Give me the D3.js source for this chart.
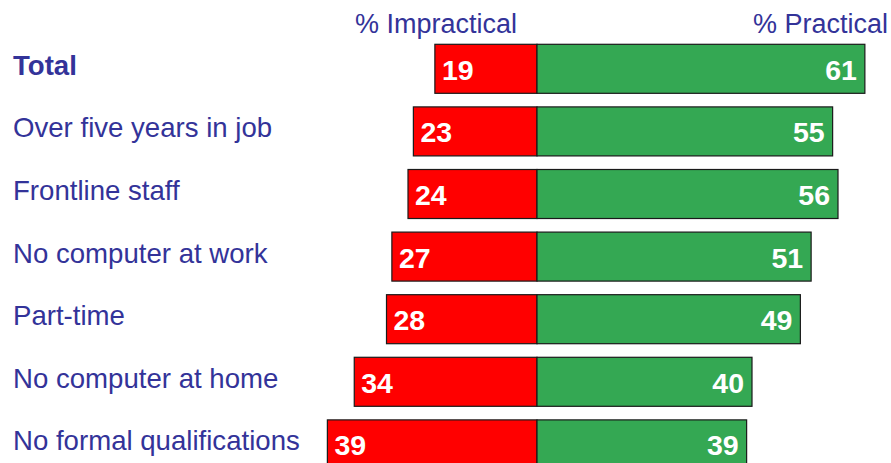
<!DOCTYPE html>
<html>
<head>
<meta charset="utf-8">
<script src="https://cdn.jsdelivr.net/npm/d3@7"></script>
<style>
  html, body { margin: 0; padding: 0; background: #fff; }
  svg { display: block; font-family: Arial, "Liberation Sans", sans-serif; }
</style>
</head>
<body>
<svg id="chart" width="891" height="463"></svg>
<script>
// data
var categories = [
  'Total',
  'Over five years in job',
  'Frontline staff',
  'No computer at work',
  'Part-time',
  'No computer at home',
  'No formal qualifications'
];
var impractical = [19, 23, 24, 27, 28, 34, 39];
var practical = [61, 55, 56, 51, 49, 40, 39];
var headers = ['% Impractical', '% Practical'];

var labelColor = '#333399';
var svg = d3.select('#chart');

// 5.375 px per percentage point, zero line at x=537
var x = d3.scaleLinear()
  .domain([-100, 100])
  .range([-0.5, 1074.5]);

var y = d3.scaleBand()
  .domain(categories)
  .range([44.3, 468.9])
  .paddingInner(0.217)
  .paddingOuter(0);

var rows = categories.map(function (c, i) {
  return { cat: c, imp: impractical[i], prac: practical[i], i: i };
});

// headers
svg.append('text')
  .attr('x', 355)
  .attr('y', 33)
  .attr('font-size', 27)
  .attr('fill', labelColor)
  .text(headers[0]);

svg.append('text')
  .attr('x', 888)
  .attr('y', 33)
  .attr('text-anchor', 'end')
  .attr('font-size', 27)
  .attr('fill', labelColor)
  .text(headers[1]);

// category labels
svg.append('g').selectAll('text')
  .data(rows)
  .join('text')
  .attr('x', 13)
  .attr('y', function (d) { return y(d.cat) + y.bandwidth() / 2 + 6; })
  .attr('font-size', 27.6)
  .attr('font-weight', function (d) { return d.i === 0 ? 'bold' : 'normal'; })
  .attr('fill', labelColor)
  .text(function (d) { return d.cat; });

var bars = svg.append('g');

// impractical (red, left of zero)
bars.selectAll('rect.imp')
  .data(rows)
  .join('rect')
  .attr('class', 'imp')
  .attr('x', function (d) { return x(-d.imp); })
  .attr('y', function (d) { return y(d.cat); })
  .attr('width', function (d) { return x(0) - x(-d.imp); })
  .attr('height', y.bandwidth())
  .attr('fill', '#ff0000')
  .attr('stroke', '#1a1a1a')
  .attr('stroke-width', 1.2);

// practical (green, right of zero)
bars.selectAll('rect.prac')
  .data(rows)
  .join('rect')
  .attr('class', 'prac')
  .attr('x', x(0))
  .attr('y', function (d) { return y(d.cat); })
  .attr('width', function (d) { return x(d.prac) - x(0); })
  .attr('height', y.bandwidth())
  .attr('fill', '#34a853')
  .attr('stroke', '#1a1a1a')
  .attr('stroke-width', 1.2);

// value labels
var vals = svg.append('g')
  .attr('font-size', 28.5)
  .attr('font-weight', 'bold')
  .attr('fill', '#fff');

vals.selectAll('text.imp')
  .data(rows)
  .join('text')
  .attr('class', 'imp')
  .attr('x', function (d) { return x(-d.imp) + 7; })
  .attr('y', function (d) { return y(d.cat) + y.bandwidth() / 2 + 11; })
  .text(function (d) { return d.imp; });

vals.selectAll('text.prac')
  .data(rows)
  .join('text')
  .attr('class', 'prac')
  .attr('x', function (d) { return x(d.prac) - 8; })
  .attr('y', function (d) { return y(d.cat) + y.bandwidth() / 2 + 11; })
  .attr('text-anchor', 'end')
  .text(function (d) { return d.prac; });
</script>
</body>
</html>
